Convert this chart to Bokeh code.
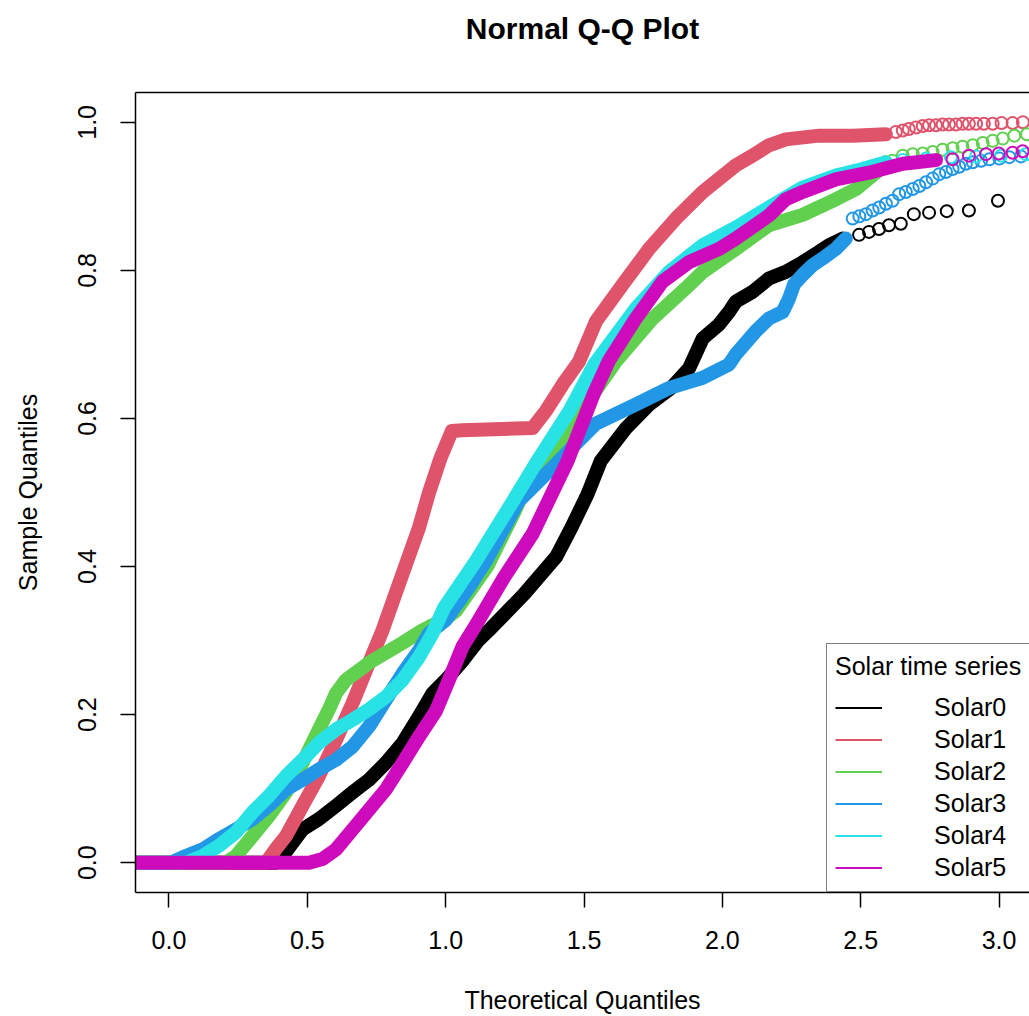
from bokeh.plotting import figure
from bokeh.models import (Range1d, FixedTicker, PrintfTickFormatter, Legend, LegendItem, LinearAxis)
from bokeh.embed import file_html
from bokeh.resources import INLINE

# ---------------- data (theoretical quantile, sample quantile) ----------------
series_names = ["Solar0", "Solar1", "Solar2", "Solar3", "Solar4", "Solar5"]
series_colors = ["#000000", "#DF536B", "#61D04F", "#2297E6", "#28E2E5", "#CD0BBC"]

# dense part of each series (points overlap into a band)
solar0_q = [-0.5, 0.387, 0.423, 0.483, 0.542, 0.604, 0.664, 0.723, 0.784, 0.845, 0.904, 0.953, 1.001,
            1.064, 1.120, 1.162, 1.284, 1.399, 1.455, 1.513, 1.561, 1.652, 1.736, 1.814, 1.880, 1.929,
            1.988, 2.024, 2.049, 2.109, 2.168, 2.229, 2.290, 2.349, 2.385, 2.435]
solar0_v = [0.0, 0.0, 0.015, 0.045, 0.059, 0.077, 0.095, 0.112, 0.135, 0.162, 0.198, 0.229, 0.247,
            0.274, 0.301, 0.316, 0.363, 0.413, 0.453, 0.498, 0.543, 0.587, 0.619, 0.641, 0.668, 0.708,
            0.727, 0.744, 0.758, 0.771, 0.789, 0.798, 0.811, 0.825, 0.834, 0.843]
solar1_q = [-0.5, 0.351, 0.387, 0.423, 0.483, 0.542, 0.604, 0.664, 0.723, 0.772, 0.845, 0.904, 0.940,
            0.980, 1.022, 1.060, 1.314, 1.362, 1.423, 1.482, 1.543, 1.640, 1.735, 1.832, 1.929, 2.049,
            2.109, 2.168, 2.229, 2.349, 2.471, 2.591]
solar1_v = [0.0, 0.0, 0.019, 0.036, 0.077, 0.117, 0.166, 0.216, 0.270, 0.314, 0.391, 0.453, 0.500,
            0.545, 0.583, 0.584, 0.587, 0.610, 0.646, 0.677, 0.731, 0.781, 0.829, 0.870, 0.906, 0.942,
            0.955, 0.969, 0.977, 0.982, 0.982, 0.984]
solar2_q = [-0.5, 0.206, 0.242, 0.302, 0.361, 0.423, 0.483, 0.542, 0.578, 0.604, 0.640, 0.723, 0.845,
            0.917, 1.001, 1.037, 1.150, 1.250, 1.314, 1.423, 1.615, 1.748, 1.868, 1.929, 2.049, 2.168,
            2.290, 2.410, 2.483, 2.555, 2.591]
solar2_v = [0.0, 0.0, 0.009, 0.036, 0.063, 0.095, 0.135, 0.180, 0.207, 0.229, 0.247, 0.270, 0.297,
            0.314, 0.330, 0.340, 0.400, 0.475, 0.529, 0.574, 0.677, 0.735, 0.776, 0.798, 0.829, 0.861,
            0.875, 0.896, 0.910, 0.932, 0.946]
solar3_q = [-0.5, 0.007, 0.061, 0.122, 0.181, 0.242, 0.302, 0.361, 0.423, 0.483, 0.542, 0.604, 0.664,
            0.723, 0.784, 0.845, 0.904, 0.940, 1.001, 1.084, 1.146, 1.265, 1.387, 1.471, 1.543, 1.688,
            1.807, 1.929, 2.024, 2.049, 2.121, 2.168, 2.218, 2.241, 2.259, 2.290, 2.326, 2.362, 2.410,
            2.446]
solar3_v = [0.0, 0.0, 0.009, 0.018, 0.032, 0.045, 0.059, 0.077, 0.099, 0.112, 0.126, 0.139, 0.157,
            0.184, 0.220, 0.256, 0.287, 0.310, 0.328, 0.372, 0.408, 0.489, 0.534, 0.566, 0.593, 0.619,
            0.641, 0.655, 0.673, 0.687, 0.718, 0.735, 0.744, 0.762, 0.781, 0.794, 0.807, 0.816, 0.829,
            0.843]
solar4_q = [-0.5, 0.061, 0.122, 0.181, 0.242, 0.302, 0.361, 0.423, 0.483, 0.542, 0.604, 0.664, 0.723,
            0.784, 0.845, 0.904, 0.953, 0.994, 1.110, 1.236, 1.332, 1.447, 1.537, 1.688, 1.807, 1.929,
            2.049, 2.168, 2.290, 2.410, 2.507, 2.591]
solar4_v = [0.0, 0.0, 0.009, 0.023, 0.041, 0.068, 0.090, 0.117, 0.139, 0.162, 0.180, 0.193, 0.207,
            0.224, 0.247, 0.278, 0.310, 0.344, 0.408, 0.484, 0.543, 0.610, 0.673, 0.749, 0.798, 0.834,
            0.858, 0.885, 0.912, 0.928, 0.937, 0.946]
solar5_q = [-0.5, 0.506, 0.555, 0.604, 0.664, 0.724, 0.784, 0.845, 0.905, 0.965, 1.012, 1.061, 1.106,
            1.212, 1.314, 1.441, 1.536, 1.590, 1.687, 1.784, 1.879, 1.988, 2.049, 2.168, 2.229, 2.290,
            2.410, 2.530, 2.652, 2.772]
solar5_v = [0.0, 0.0, 0.005, 0.018, 0.045, 0.072, 0.099, 0.135, 0.171, 0.205, 0.247, 0.292, 0.319,
            0.386, 0.444, 0.543, 0.634, 0.678, 0.735, 0.785, 0.811, 0.829, 0.843, 0.874, 0.896, 0.906,
            0.923, 0.932, 0.944, 0.949]

# sparse upper tail of each series (individual circles)
solar0_tail_q = [2.494, 2.530, 2.566, 2.602, 2.645, 2.692, 2.747, 2.811, 2.891, 2.996]
solar0_tail_v = [0.848, 0.852, 0.856, 0.861, 0.863, 0.876, 0.878, 0.880, 0.881, 0.894]
solar1_tail_q = [2.627, 2.652, 2.674, 2.700, 2.724, 2.747, 2.772, 2.796, 2.819, 2.844, 2.868, 2.891,
                 2.917, 2.945, 2.977, 3.009, 3.049, 3.086]
solar1_tail_v = [0.987, 0.989, 0.991, 0.993, 0.995, 0.996, 0.996, 0.997, 0.997, 0.997, 0.998, 0.998,
                 0.998, 0.998, 0.998, 0.999, 0.999, 1.000]
solar2_tail_q = [2.615, 2.652, 2.688, 2.724, 2.760, 2.796, 2.832, 2.868, 2.905, 2.941, 2.977, 3.013,
                 3.055, 3.101]
solar2_tail_v = [0.948, 0.955, 0.957, 0.958, 0.960, 0.963, 0.965, 0.967, 0.969, 0.972, 0.975, 0.978,
                 0.982, 0.984]
solar3_tail_q = [2.471, 2.495, 2.519, 2.543, 2.567, 2.591, 2.615, 2.639, 2.663, 2.688, 2.712, 2.736,
                 2.760, 2.784, 2.808, 2.832, 2.856, 2.880, 2.905, 2.935, 2.965, 3.001, 3.037, 3.079]
solar3_tail_v = [0.870, 0.873, 0.876, 0.881, 0.885, 0.890, 0.894, 0.903, 0.906, 0.910, 0.914, 0.919,
                 0.924, 0.930, 0.933, 0.937, 0.940, 0.944, 0.946, 0.948, 0.950, 0.951, 0.953, 0.954]
solar4_tail_q = [2.652, 2.736, 2.826, 2.917, 3.007, 3.097]
solar4_tail_v = [0.949, 0.951, 0.953, 0.954, 0.955, 0.957]
solar5_tail_q = [2.832, 2.891, 2.953, 2.999, 3.049, 3.085]
solar5_tail_v = [0.950, 0.955, 0.957, 0.958, 0.959, 0.961]

x_ticks = [0.0, 0.5, 1.0, 1.5, 2.0, 2.5, 3.0]
y_ticks = [0.0, 0.2, 0.4, 0.6, 0.8, 1.0]

dense = [(solar0_q, solar0_v), (solar1_q, solar1_v), (solar2_q, solar2_v),
         (solar3_q, solar3_v), (solar4_q, solar4_v), (solar5_q, solar5_v)]
tails = [(solar0_tail_q, solar0_tail_v), (solar1_tail_q, solar1_tail_v), (solar2_tail_q, solar2_tail_v),
         (solar3_tail_q, solar3_tail_v), (solar4_tail_q, solar4_tail_v), (solar5_tail_q, solar5_tail_v)]

FONT = "Liberation Sans"

p = figure(width=1029, height=1016,
           x_range=Range1d(-0.121, 3.110), y_range=Range1d(-0.0403, 1.0403),
           output_backend="svg", toolbar_location=None,
           min_border_left=135, min_border_right=0, min_border_top=92, min_border_bottom=120)

p.xgrid.visible = False
p.ygrid.visible = False
p.outline_line_color = None
p.background_fill_color = "white"
p.border_fill_color = "white"

for ax, ticks in ((p.xaxis, x_ticks), (p.yaxis, y_ticks)):
    ax.ticker = FixedTicker(ticks=ticks)
    ax.formatter = PrintfTickFormatter(format="%.1f")
    ax.major_tick_out = 15
    ax.major_tick_in = 0
    ax.minor_tick_out = 0
    ax.minor_tick_in = 0
    ax.major_tick_line_width = 1.5
    ax.major_tick_line_color = "black"
    ax.axis_line_color = "black"
    ax.axis_line_width = 1.5
    ax.major_label_text_font = FONT
    ax.major_label_text_font_size = "25px"
    ax.major_label_text_color = "black"
    ax.axis_label_text_font = FONT
    ax.axis_label_text_font_size = "25px"
    ax.axis_label_text_font_style = "normal"
    ax.axis_label_text_color = "black"

p.xaxis.major_label_standoff = 23
p.yaxis.major_label_standoff = 24
p.xaxis.axis_label = "Theoretical Quantiles"
p.xaxis.axis_label_standoff = 34
p.yaxis.axis_label = "Sample Quantiles"
p.yaxis.axis_label_standoff = 34
p.yaxis.major_label_orientation = "vertical"

# top edge of the box (the plot is cut at the right, so no right edge is visible);
# its axis label carries the main title
top_edge = LinearAxis(ticker=FixedTicker(ticks=[]), axis_line_color="black", axis_line_width=1.5,
                      major_tick_out=0, major_tick_in=0, minor_tick_out=0, minor_tick_in=0,
                      axis_label="Normal Q-Q Plot", axis_label_text_font=FONT,
                      axis_label_text_font_size="30px", axis_label_text_font_style="bold",
                      axis_label_text_color="black", axis_label_standoff=48)
p.add_layout(top_edge, "above")

items = []
for (q, v), (tq, tv), col, name in zip(dense, tails, series_colors, series_names):
    # thin line (used for the legend key) hidden under the series' own band
    thin = p.line(q, v, line_color=col, line_width=2)
    p.line(q, v, line_color=col, line_width=14, line_cap="round", line_join="round")
    p.scatter(tq, tv, marker="circle", size=12, fill_color=None, line_color=col, line_width=2)
    items.append(LegendItem(label=name, renderers=[thin]))

legend = Legend(items=items, title="Solar time series", location=(691, 0),
                title_text_font=FONT, title_text_font_size="25px", title_text_font_style="normal",
                title_text_color="black",
                label_text_font=FONT, label_text_font_size="25px", label_text_color="black",
                glyph_width=47, glyph_height=31, label_height=31, label_standoff=52,
                spacing=1, padding=8, margin=0, title_standoff=11,
                border_line_color="black", border_line_width=1.5,
                background_fill_color="white", background_fill_alpha=1.0)
p.add_layout(legend)

open("out.html", "w").write(file_html(p, INLINE))
